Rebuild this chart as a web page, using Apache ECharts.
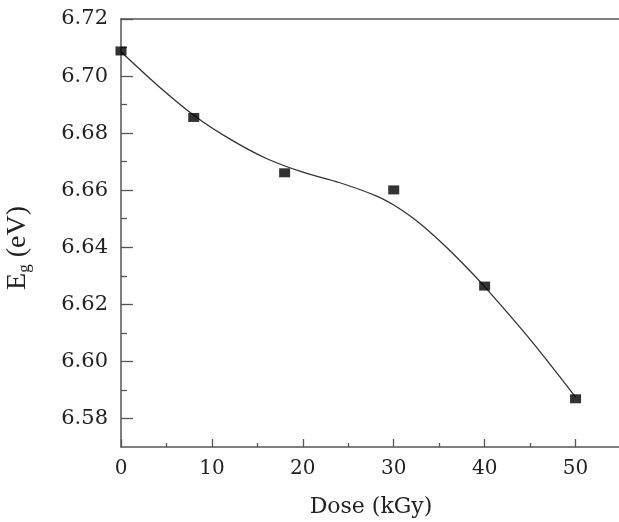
<!DOCTYPE html>
<html>
<head>
<meta charset="utf-8">
<script src="https://cdn.jsdelivr.net/npm/echarts@6/dist/echarts.min.js"></script>
<style>html,body{margin:0;padding:0;background:#fff}#c{width:619px;height:522px}</style>
</head>
<body>
<div id="c"></div>
<script>
// measured points
const doseValues = [0, 8, 18, 30, 40, 50];
const egValues = [6.7088, 6.6855, 6.6661, 6.6601, 6.6264, 6.5869];
// fitted curve
const curveDose = [0, 4, 8, 12, 16, 20, 24, 28, 30, 32, 34, 36, 38, 40, 45, 50];
const curveEg = [6.7085, 6.6968, 6.6863, 6.6779, 6.6711, 6.6663, 6.6627, 6.6581, 6.6548, 6.6505, 6.6453, 6.6394, 6.6330, 6.6262, 6.6077, 6.5875];
const yMajorTicks = [6.58, 6.60, 6.62, 6.64, 6.66, 6.68, 6.70, 6.72];
const yMinorTicks = [6.59, 6.61, 6.63, 6.65, 6.67, 6.69, 6.71];

const axisColor = '#555';
const tickFont = 'DejaVu Serif';
const nameFont = 'Liberation Serif';
const textColor = '#222';
const chart = echarts.init(document.getElementById('c'));
chart.setOption({
  animation: false,
  grid: { left: 121, top: 19, width: 500, height: 428, containLabel: false, outerBoundsMode: 'none' },
  xAxis: [{
    type: 'value', min: 0, max: 55, interval: 10,
    name: 'Dose (kGy)', nameLocation: 'middle', nameGap: 49,
    nameTextStyle: { fontFamily: tickFont, fontSize: 22, color: textColor },
    axisLine: { lineStyle: { color: axisColor, width: 1.5 } },
    axisTick: { inside: true, length: 8, lineStyle: { color: axisColor, width: 1.3 } },
    minorTick: { show: true, splitNumber: 2, length: 4, lineStyle: { color: axisColor, width: 1.3 } },
    axisLabel: { showMaxLabel: false, margin: 12, fontFamily: tickFont, fontSize: 20, color: textColor },
    splitLine: { show: false }
  }, {
    type: 'value', position: 'top', min: 0, max: 55,
    axisLine: { show: true, lineStyle: { color: axisColor, width: 1.5 } },
    axisTick: { show: false }, axisLabel: { show: false }, splitLine: { show: false }
  }],
  yAxis: [{
    type: 'value', min: 6.57, max: 6.72, position: 'left',
    name: '{e|E}{g|g}{e| (eV)}', nameLocation: 'middle', nameGap: 88,
    nameTextStyle: { fontFamily: nameFont, color: textColor, padding: [0, 30, 0, 0],
      rich: { e: { fontFamily: nameFont, fontSize: 28, color: textColor },
              g: { fontFamily: nameFont, fontSize: 17, color: textColor, padding: [14, 0, 0, 0] } } },
    axisLine: { show: true, lineStyle: { color: axisColor, width: 1.5 } },
    axisTick: { inside: true, length: 12, customValues: yMajorTicks, lineStyle: { color: axisColor, width: 1.3 } },
    axisLabel: { customValues: yMajorTicks, margin: 13, fontFamily: tickFont, fontSize: 21, color: textColor,
      formatter: v => v.toFixed(2) },
    splitLine: { show: false }
  }, {
    type: 'value', min: 6.57, max: 6.72, position: 'left', offset: 0,
    axisLine: { show: false },
    axisTick: { inside: true, length: 6, customValues: yMinorTicks, lineStyle: { color: axisColor, width: 1.3 } },
    axisLabel: { show: false }, splitLine: { show: false }
  }],
  series: [{
    type: 'line', data: curveDose.map((d, i) => [d, curveEg[i]]),
    smooth: 0.3, showSymbol: false, symbol: 'none',
    lineStyle: { color: '#333', width: 1.3 }, z: 2
  }, {
    type: 'scatter', data: doseValues.map((d, i) => [d, egValues[i]]),
    symbol: 'rect', symbolSize: [11, 9], itemStyle: { color: '#000' }, z: 3
  }]
});
</script>
</body>
</html>
